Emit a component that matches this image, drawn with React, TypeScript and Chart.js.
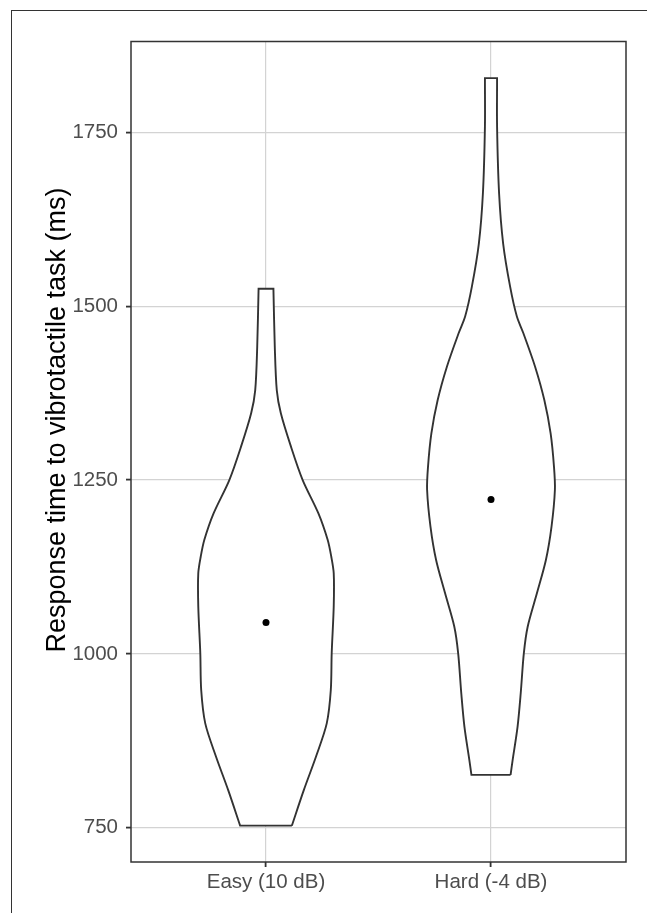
import React, { useEffect, useRef } from 'react';
import { Chart, registerables } from 'chart.js';

Chart.register(...registerables);

// ---- data ----
const categories = ['Easy (10 dB)', 'Hard (-4 dB)'];
const categoryPositions = [1, 2];
const yTicks = [750, 1000, 1250, 1500, 1750];
const yTitle = 'Response time to vibrotactile task (ms)';

// violin outline: response time (ms) and half-width (x units)
const easyY = [753, 804, 852, 900, 948, 1001, 1068, 1116, 1140, 1164, 1202, 1250, 1298, 1346, 1379, 1442, 1525];
const easyHalfWidth = [0.115, 0.168, 0.222, 0.27, 0.288, 0.292, 0.301, 0.301, 0.29, 0.274, 0.233, 0.163, 0.111, 0.066, 0.048, 0.039, 0.033];

const hardY = [826, 847, 895, 943, 1001, 1039, 1087, 1135, 1183, 1236, 1269, 1317, 1365, 1413, 1461, 1485, 1528, 1590, 1662, 1758, 1828];
const hardHalfWidth = [0.087, 0.096, 0.118, 0.132, 0.146, 0.163, 0.204, 0.244, 0.269, 0.284, 0.28, 0.265, 0.237, 0.196, 0.144, 0.115, 0.085, 0.054, 0.036, 0.027, 0.027];

const means = [1045, 1222];

type Pt = { x: number; y: number };

function violinOutline(center: number, ys: number[], hw: number[]): Pt[] {
  const n = ys.length;
  const pts: Pt[] = [];
  pts.push({ x: center + hw[0], y: ys[0] });
  for (let i = 1; i < n - 1; i++) pts.push({ x: center + hw[i], y: ys[i] });
  pts.push({ x: center + hw[n - 1], y: ys[n - 1] });
  pts.push({ x: center + hw[n - 1], y: ys[n - 1] });
  pts.push({ x: center - hw[n - 1], y: ys[n - 1] });
  pts.push({ x: center - hw[n - 1], y: ys[n - 1] });
  for (let i = n - 2; i > 0; i--) pts.push({ x: center - hw[i], y: ys[i] });
  pts.push({ x: center - hw[0], y: ys[0] });
  pts.push({ x: center - hw[0], y: ys[0] });
  pts.push({ x: center + hw[0], y: ys[0] });
  return pts;
}

const FONT = "'Liberation Sans', Arial, sans-serif";

const panelBorder = {
  id: 'panelBorder',
  afterDraw(chart: any) {
    const { ctx, chartArea } = chart;
    ctx.save();
    ctx.strokeStyle = '#333333';
    ctx.lineWidth = 1.5;
    ctx.strokeRect(chartArea.left, chartArea.top, chartArea.right - chartArea.left, chartArea.bottom - chartArea.top);
    // y-axis title
    ctx.translate(57.5, 420);
    ctx.rotate(-Math.PI / 2);
    ctx.fillStyle = '#000000';
    ctx.font = `27px ${FONT}`;
    ctx.textAlign = 'center';
    ctx.textBaseline = 'middle';
    ctx.fillText(yTitle, 0, 0);
    ctx.restore();
  },
};

export default function App() {
  const ref = useRef<HTMLCanvasElement | null>(null);

  useEffect(() => {
    if (!ref.current) return;
    const violinStyle = {
      type: 'line' as const,
      showLine: true,
      borderColor: '#333333',
      borderWidth: 1.9,
      backgroundColor: '#ffffff',
      fill: 'shape',
      tension: 0.3,
      pointRadius: 0,
      pointHoverRadius: 0,
    };
    const chart = new Chart(ref.current, {
      type: 'line',
      data: {
        datasets: [
          {
            type: 'line',
            data: categoryPositions.map((c, i) => ({ x: c, y: means[i] })),
            showLine: false,
            pointRadius: 3.5,
            pointBackgroundColor: '#000000',
            pointBorderWidth: 0,
            borderWidth: 0,
          } as any,
          { ...violinStyle, data: violinOutline(categoryPositions[0], easyY, easyHalfWidth) } as any,
          { ...violinStyle, data: violinOutline(categoryPositions[1], hardY, hardHalfWidth) } as any,
        ],
      },
      options: {
        animation: false,
        responsive: false,
        maintainAspectRatio: false,
        devicePixelRatio: 1,
        layout: { padding: { top: 41.5, right: 21, bottom: 0, left: 0 } },
        plugins: { legend: { display: false }, tooltip: { enabled: false } },
        scales: {
          x: {
            type: 'linear',
            min: 0.4,
            max: 2.6,
            afterBuildTicks: (axis: any) => {
              axis.ticks = categoryPositions.map((v) => ({ value: v }));
            },
            afterFit: (axis: any) => {
              axis.height = 51;
            },
            ticks: {
              callback: (v: any) => categories[categoryPositions.indexOf(Number(v))] ?? '',
              font: { family: FONT, size: 20.5 },
              color: '#4d4d4d',
              padding: 3,
              maxRotation: 0,
              autoSkip: false,
            },
            grid: { color: '#d3d3d3', lineWidth: 1.2, tickColor: '#333333', tickLength: 5, tickWidth: 1.8 },
            border: { display: false },
          },
          y: {
            type: 'linear',
            min: 700.7,
            max: 1880.6,
            afterBuildTicks: (axis: any) => {
              axis.ticks = yTicks.map((v) => ({ value: v }));
            },
            afterFit: (axis: any) => {
              axis.width = 131;
            },
            ticks: {
              callback: (v: any) => String(v),
              font: { family: FONT, size: 20.5 },
              color: '#4d4d4d',
              padding: 8,
              autoSkip: false,
            },
            grid: { color: '#d3d3d3', lineWidth: 1.2, tickColor: '#333333', tickLength: 5, tickWidth: 1.8 },
            border: { display: false },
            title: { display: false },
          },
        },
      } as any,
      plugins: [panelBorder],
    });
    return () => chart.destroy();
  }, []);

  return (
    <div style={{ position: 'fixed', left: 0, top: 0, width: 647, height: 913, overflow: 'hidden', background: '#fff' }}>
      <div
        style={{
          position: 'absolute',
          left: 11,
          top: 10,
          right: -5,
          bottom: -5,
          borderLeft: '1.5px solid #333',
          borderTop: '1.5px solid #333',
        }}
      />
      <canvas ref={ref} width={647} height={913} style={{ position: 'absolute', left: 0, top: 0, width: 647, height: 913 }} />
    </div>
  );
}
